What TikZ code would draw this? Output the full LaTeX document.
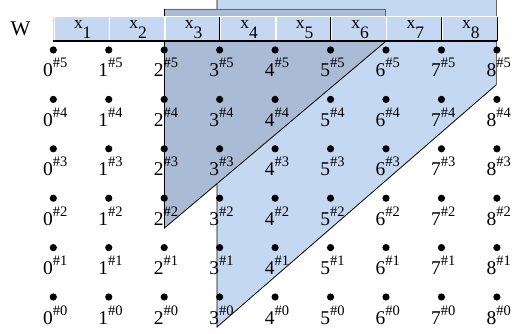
\documentclass[tikz,border=0pt]{standalone}
\usepackage{fontspec}
\setmainfont{Liberation Serif}
\definecolor{lightfill}{RGB}{197,216,242}
\definecolor{darkfill}{RGB}{170,187,214}
\begin{document}
\begin{tikzpicture}[x=1pt,y=-1pt,
  dot/.style={circle,fill=black,inner sep=0pt,minimum size=7.2pt},
  cell/.style={fill=lightfill,inner sep=0pt,minimum width=55.45pt,minimum height=24pt},
  ptlab/.style={inner sep=0pt,anchor=base west,font=\fontsize{19.5}{22}\selectfont},
  boxlab/.style={inner sep=0pt,anchor=base west,font=\fontsize{17.5}{20}\selectfont},
  edgeline/.style={draw=black,line width=0.8pt},
  greyline/.style={draw=black!60,line width=0.8pt}]
\useasboundingbox (0,0) rectangle (512,334);
% light polygon
\coordinate (L1) at (217,-2);
\coordinate (L2) at (496,-2);
\coordinate (L3) at (496,85);
\coordinate (L4) at (217,327);
\fill[lightfill] (L1) -- (L2) -- (L3) -- (L4) -- cycle;
\draw[greyline] (L2) -- (L3);
\draw[edgeline] (L3) -- (L4) -- (L1);
% dark polygon
\coordinate (D1) at (164.5,9);
\coordinate (D2) at (385,9);
\coordinate (D3) at (385,42);
\coordinate (D4) at (164.5,228);
\fill[darkfill] (D1) -- (D2) -- (D3) -- (D4) -- cycle;
\draw[greyline] (D1) -- (D2) -- (D3);
\draw[edgeline] (D3) -- (D4) -- (D1);
% W
\node[font=\fontsize{21}{24}\selectfont,anchor=base,inner sep=0pt] (w) at (20.5,36) {W};
% boxes
\foreach \i in {1,...,8} {
  \node[cell] (b\i) at ({53.3+(\i-0.5)*55.45},29) {};
  \node[boxlab] (t\i) at ({53.3+(\i-1)*55.45+20.5},29) {x\raisebox{-10pt}{\i}};
}
\foreach \i in {1,...,8} {
  \draw[white,line width=1.2pt] (b\i.north west) -- (b\i.north east);
  \draw[white,line width=1.2pt] ([xshift=1pt]b\i.north west) -- ([xshift=1pt]b\i.south west);
  \draw[black,line width=0.9pt] (b\i.north east) -- (b\i.south east);
}
\draw[black,line width=2.4pt] (b1.south west) -- (b8.south east);
% dots and labels
\foreach \i in {0,...,8} {
  \foreach \k in {0,...,5} {
    \node[dot] (d\i\k) at ({53.3+\i*55.45},{50+(5-\k)*49.4}) {};
    \node[ptlab] (l\i\k) at ({53.3+\i*55.45-10.5},{50+(5-\k)*49.4+27}) {\i\raisebox{9pt}{\fontsize{14.5}{16}\selectfont\#\k}};
  }
}
\end{tikzpicture}
\end{document}
